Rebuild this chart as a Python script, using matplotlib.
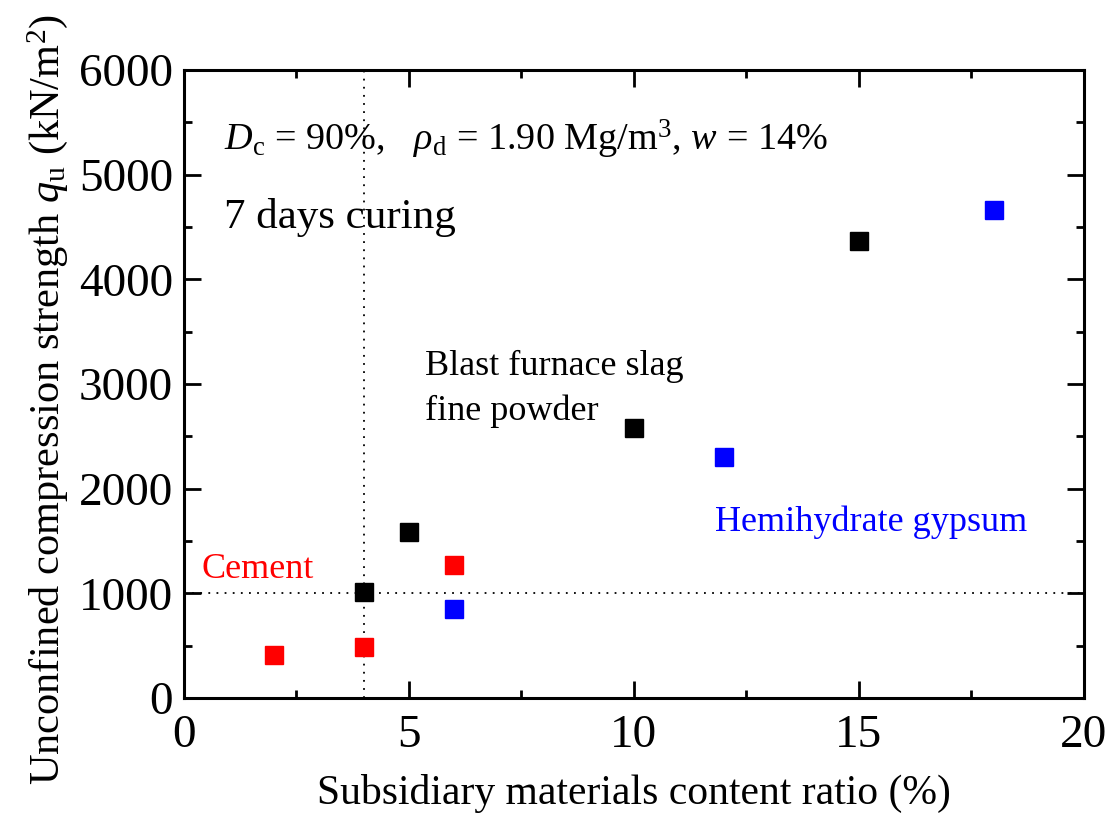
import matplotlib

matplotlib.use("Agg")

import matplotlib.pyplot as plt
from matplotlib.ticker import MultipleLocator

plt.rcParams["font.family"] = ["Liberation Serif", "DejaVu Serif"]
plt.rcParams["mathtext.fontset"] = "custom"
plt.rcParams["mathtext.rm"] = "Liberation Serif"
plt.rcParams["mathtext.it"] = "Liberation Serif:italic"

# data
slag_x = [4, 5, 10, 15]
slag_y = [1010, 1590, 2580, 4370]
cement_x = [2, 4, 6]
cement_y = [410, 490, 1270]
gypsum_x = [6, 12, 18]
gypsum_y = [850, 2300, 4660]

fig = plt.figure(figsize=(11.11, 8.14), dpi=100)
ax = fig.add_axes([0.1656, 0.1425, 0.810, 0.7715])

dots = (0, (1, 3.5))
ax.axvline(4, color="black", linestyle=dots, linewidth=1.3, zorder=1)
ax.axhline(1000, color="black", linestyle=dots, linewidth=1.3, zorder=1)

ms = 12.5
ax.plot(slag_x, slag_y, "s", color="black", markersize=ms, zorder=3)
ax.plot(cement_x, cement_y, "s", color="#ff0000", markersize=ms, zorder=3)
ax.plot(gypsum_x, gypsum_y, "s", color="#0000ff", markersize=ms, zorder=3)

ax.set_xlim(0, 20)
ax.set_ylim(0, 6000)
ax.xaxis.set_major_locator(MultipleLocator(5))
ax.xaxis.set_minor_locator(MultipleLocator(2.5))
ax.yaxis.set_major_locator(MultipleLocator(1000))
ax.yaxis.set_minor_locator(MultipleLocator(500))
ax.tick_params(which="both", direction="in", top=True, right=True, width=2)
ax.tick_params(which="major", length=12, labelsize=34)
ax.tick_params(axis="x", which="major", pad=12)
ax.tick_params(axis="y", which="major", pad=8)
ax.tick_params(which="minor", length=6)
for spine in ax.spines.values():
    spine.set_linewidth(2.2)

ax.set_xlabel("Subsidiary materials content ratio (%)", fontsize=30, labelpad=12)
ax.set_ylabel(r"Unconfined compression strength $q_{\mathrm{u}}$ (kN/m$^{2}$)",
              fontsize=30.5, labelpad=6)
ax.yaxis.label.set_y(0.475)

ax.text(0.9, 5230,
        r"$D_{\mathrm{c}}$ = 90%,   $\rho_{\mathrm{d}}$ = 1.90 Mg/m$^{3}$, $w$ = 14%",
        fontsize=27.5, ha="left", va="baseline")
ax.text(0.9, 4490, "7 days curing", fontsize=31, ha="left", va="baseline")
ax.text(5.35, 3085, "Blast furnace slag", fontsize=26, ha="left", va="baseline")
ax.text(5.35, 2655, "fine powder", fontsize=26, ha="left", va="baseline")
ax.text(11.8, 1600, "Hemihydrate gypsum", fontsize=26, color="#0000ff",
        ha="left", va="baseline")
ax.text(0.4, 1150, "Cement", fontsize=26, color="#ff0000",
        ha="left", va="baseline")

fig.savefig("out.png", dpi=100, facecolor="white")
